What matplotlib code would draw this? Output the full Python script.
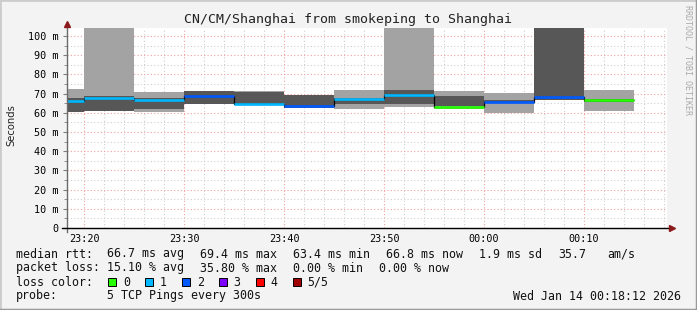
import matplotlib
matplotlib.use('Agg')
import matplotlib.pyplot as plt
from matplotlib.patches import Rectangle
from matplotlib.lines import Line2D
import numpy as np

# time slots, minutes after 23:00 (window starts 23:18:18)
slot_start = [18.3, 20, 25, 30, 35, 40, 45, 50, 55, 60, 65, 70]
slot_end = [20, 25, 30, 35, 40, 45, 50, 55, 60, 65, 70, 75]

# smoke ranges (ms)
outer_lo = [60.5, 60.8, 60.4, 64.4, 64.0, 62.3, 62.1, 63.2, 62.1, 59.9, 66.7, 61.0]
outer_hi = [72.5, 130, 70.8, 71.6, 71.2, 69.3, 71.9, 130, 71.4, 70.3, 130, 71.9]
inner_lo = [60.6, 60.8, 62.0, 64.4, 64.0, 62.3, 64.4, 64.6, 63.5, 65.0, 66.7, 65.6]
inner_hi = [67.5, 68.8, 67.7, 71.4, 71.0, 69.3, 67.9, 71.9, 68.8, 66.5, 130, 67.2]
median = [66.3, 67.9, 66.7, 68.9, 64.4, 63.5, 67.2, 69.4, 63.0, 65.6, 68.4, 66.7]
loss = [1, 1, 1, 2, 1, 2, 1, 1, 0, 2, 2, 0]

loss_labels = ['0', '1', '2', '3', '4', '5/5']
loss_colors = ['#26ff00', '#00b8ff', '#0059ff', '#7e00ff', '#ff0000', '#a10000']

xticks = [20, 30, 40, 50, 60, 70]
xticklabels = ['23:20', '23:30', '23:40', '23:50', '00:00', '00:10']
yticks = [0, 10, 20, 30, 40, 50, 60, 70, 80, 90, 100]
yticklabels = ['0', '10 m', '20 m', '30 m', '40 m', '50 m', '60 m', '70 m', '80 m', '90 m', '100 m']

W, H = 697, 310
def fx(x): return x / W
def fy(y): return 1 - y / H

mono = 'DejaVu Sans Mono'
fig = plt.figure(figsize=(W / 100, H / 100), dpi=100)
fig.patch.set_facecolor('#F3F3F3')

ax = fig.add_axes([fx(67), fy(228), 600 / W, 200 / H])
ax.set_xlim(18.3, 78.3)
ax.set_ylim(0, 104.2)
ax.set_facecolor('white')
for s in ax.spines.values():
    s.set_visible(False)

# grid
ax.set_xticks(xticks)
ax.set_xticks(np.arange(20, 79, 2), minor=True)
ax.set_yticks(yticks)
ax.set_yticks(np.arange(0, 105, 5), minor=True)
ax.grid(which='minor', color='#cfcfcf', linestyle=(0, (1, 2)), lw=0.8)
ax.grid(which='major', color='#f2a0a0', linestyle=(0, (1, 2)), lw=0.8)
ax.set_axisbelow(True)
ax.set_xticklabels(xticklabels, fontfamily=mono, fontsize=7.3)
ax.set_yticklabels(yticklabels, fontfamily=mono, fontsize=7.3)
ax.tick_params(axis='x', which='both', length=0, pad=4)
ax.tick_params(axis='y', which='major', length=3, color='#808080', pad=3)
ax.tick_params(axis='y', which='minor', length=2, color='#808080')

# smoke
starts = np.array(slot_start)
widths = np.array(slot_end) - starts
ax.bar(starts, np.array(outer_hi) - np.array(outer_lo), bottom=outer_lo, width=widths,
       align='edge', color='#a3a3a3', lw=0, zorder=2)
ax.bar(starts, np.array(inner_hi) - np.array(inner_lo), bottom=inner_lo, width=widths,
       align='edge', color='#575757', lw=0, zorder=3)
edges = slot_start + [slot_end[-1]]
ax.stairs(median, edges, baseline=None, color='black', lw=0.9, zorder=4)
ax.hlines(median, slot_start, slot_end, colors=[loss_colors[l] for l in loss], lw=1.9, zorder=5)

# axis lines with arrows
ax.add_line(Line2D([0, 0], [-0.02, 1.01], transform=ax.transAxes, color='#6a6a6a', lw=1, clip_on=False, zorder=6))
ax.add_line(Line2D([-0.008, 1.005], [0, 0], transform=ax.transAxes, color='black', lw=1, clip_on=False, zorder=6))
ax.plot([0], [1.02], marker='^', ms=5, color='#8b1a1a', transform=ax.transAxes, clip_on=False, zorder=7)
ax.plot([1.008], [0], marker='>', ms=5, color='#8b1a1a', transform=ax.transAxes, clip_on=False, zorder=7)

# texts
fig.text(fx(348), fy(19), 'CN/CM/Shanghai from smokeping to Shanghai', ha='center', va='center',
         fontfamily=mono, fontsize=9.5, color='#222222')
fig.text(fx(11), fy(125), 'Seconds', rotation=90, ha='center', va='center', fontsize=7.2, color='#222222')
fig.text(fx(688), fy(60), 'RRDTOOL / TOBI OETIKER', rotation=-90, ha='center', va='center',
         fontfamily=mono, fontsize=6, color='#aaaaaa')

fs = 8.4
rows = [
    (254, [('median rtt:', 16), ('66.7 ms avg', 107), ('69.4 ms max', 200), ('63.4 ms min', 293),
           ('66.8 ms now', 386), ('1.9 ms sd', 479), ('35.7', 558), ('am/s', 607.7)]),
    (268, [('packet loss:', 16), ('15.10 % avg', 107), ('35.80 % max', 200), ('0.00 % min', 293),
           ('0.00 % now', 379)]),
    (282, [('loss color:', 16)]),
    (296, [('probe:', 16), ('5 TCP Pings every 300s', 107)]),
]
for y, items in rows:
    for txt, x in items:
        fig.text(fx(x), fy(y), txt, ha='left', va='center', fontfamily=mono, fontsize=fs, color='#111111')
fig.text(fx(681), fy(296), 'Wed Jan 14 00:18:12 2026', ha='right', va='center',
         fontfamily=mono, fontsize=fs, color='#111111')

for i, (lab, col) in enumerate(zip(loss_labels, loss_colors)):
    bx = 108 + i * 36.9
    fig.patches.append(Rectangle((fx(bx), fy(286)), 8 / W, 8 / H, transform=fig.transFigure,
                                 facecolor=col, edgecolor='black', lw=0.7))
    fig.text(fx(bx + 15), fy(282), lab, ha='left', va='center', fontfamily=mono, fontsize=fs, color='#111111')

# frame
fig.add_artist(Line2D([0, 0], [0, 1], transform=fig.transFigure, color='#cccccc', lw=2))
fig.add_artist(Line2D([0, 1], [1, 1], transform=fig.transFigure, color='#cccccc', lw=2))
fig.add_artist(Line2D([1, 1], [0, 1], transform=fig.transFigure, color='#999999', lw=2.5))
fig.add_artist(Line2D([0, 1], [0, 0], transform=fig.transFigure, color='#999999', lw=2.5))

fig.savefig('out.png', dpi=100, facecolor=fig.get_facecolor())
